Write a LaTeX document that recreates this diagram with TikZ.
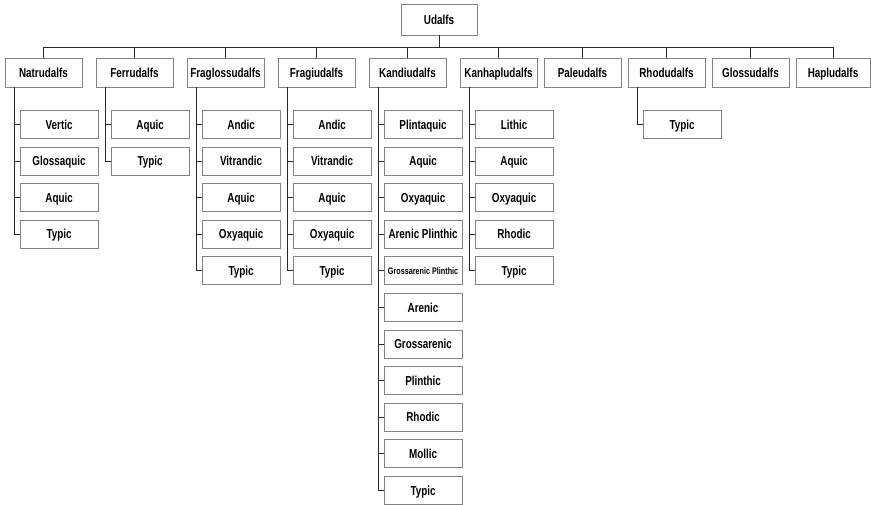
\documentclass[tikz,border=0pt]{standalone}
\usepackage{fontspec}
\setmainfont{Liberation Sans}[FakeStretch=0.76]
\usetikzlibrary{calc}
\newcommand\gpfont[1]{\raisebox{1.3pt}{\fontsize{9.5}{11}\selectfont #1}}
\begin{document}
\begin{tikzpicture}[x=1pt,y=-1pt,
  boxline/.style={draw={rgb,255:red,130;green,130;blue,130}, line width=0.8pt, fill=white, text height=9.3pt, text depth=0pt},
  conn/.style={draw={rgb,255:red,40;green,40;blue,40}, line width=0.9pt},
  topbox/.style={boxline, minimum width=76pt, minimum height=31pt, inner sep=0pt, font=\fontsize{13}{15}\selectfont\bfseries},
  groupbox/.style={boxline, minimum width=77pt, minimum height=29pt, inner sep=0pt, font=\fontsize{13}{15}\selectfont\bfseries},
  kidbox/.style={boxline, minimum width=78pt, minimum height=28pt, inner sep=0pt, font=\fontsize{13}{15}\selectfont\bfseries}]
\useasboundingbox (0,0) rectangle (871,505);
\node[topbox] (top) at (439,19.5) {Udalfs};
\node[groupbox] (nat) at (43.5,72.5) {Natrudalfs};
\node[groupbox] (fer) at (134.5,72.5) {Ferrudalfs};
\node[groupbox] (frg) at (225.5,72.5) {Fraglossudalfs};
\node[groupbox] (fra) at (316.5,72.5) {Fragiudalfs};
\node[groupbox] (kan) at (407.5,72.5) {Kandiudalfs};
\node[groupbox] (kha) at (498.5,72.5) {Kanhapludalfs};
\node[groupbox] (pal) at (582.5,72.5) {Paleudalfs};
\node[groupbox] (rho) at (666.5,72.5) {Rhodudalfs};
\node[groupbox] (glo) at (750.5,72.5) {Glossudalfs};
\node[groupbox, minimum width=74pt] (hap) at (833,72.5) {Hapludalfs};
\coordinate (bus) at (0,47);
\foreach \g in {nat,fer,frg,fra,kan,kha,pal,rho,glo,hap}{
  \draw[conn] (top.south) -- (top.south |- bus) -| (\g.north);
}
\foreach \p/\l in {
  nat/{Vertic,Glossaquic,Aquic,Typic},
  fer/{Aquic,Typic},
  frg/{Andic,Vitrandic,Aquic,Oxyaquic,Typic},
  fra/{Andic,Vitrandic,Aquic,Oxyaquic,Typic},
  kan/{Plintaquic,Aquic,Oxyaquic,Arenic Plinthic,{\gpfont{Grossarenic Plinthic}},Arenic,Grossarenic,Plinthic,Rhodic,Mollic,Typic},
  kha/{Lithic,Aquic,Oxyaquic,Rhodic,Typic},
  rho/{Typic}}{
  \foreach \t [count=\i from 0] in \l {
    \node[kidbox] (\p-\i) at ($(\p.south west)+(54.5,37+36.6*\i)$) {\t};
    \draw[conn] ([xshift=10pt]\p.south west) |- (\p-\i.west);
  }
}
\end{tikzpicture}
\end{document}
